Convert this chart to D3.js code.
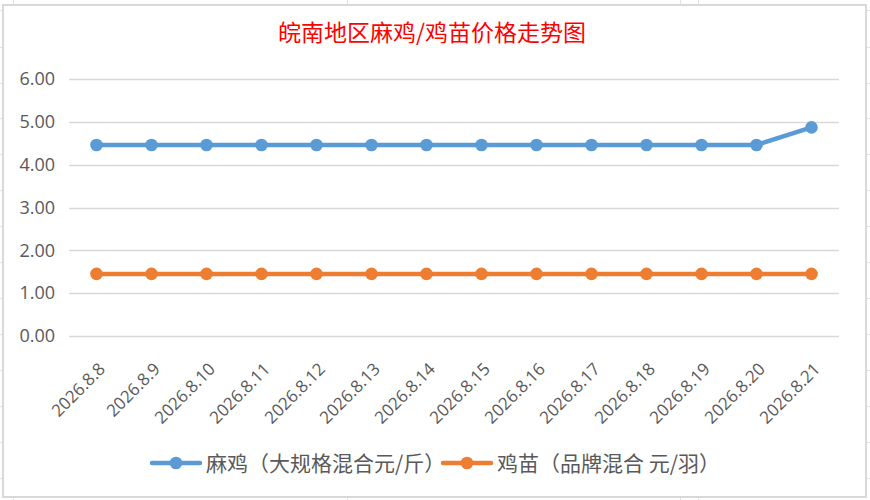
<!DOCTYPE html>
<html><head><meta charset="utf-8">
<script src="https://cdn.jsdelivr.net/npm/d3@7"></script>
<style>html,body{margin:0;padding:0;background:#fff;}svg{display:block;}</style>
</head><body>
<svg id="c" width="870" height="500"></svg>
<script>
const title = "皖南地区麻鸡/鸡苗价格走势图";
const categories = ["2026.8.8","2026.8.9","2026.8.10","2026.8.11","2026.8.12","2026.8.13","2026.8.14","2026.8.15","2026.8.16","2026.8.17","2026.8.18","2026.8.19","2026.8.20","2026.8.21"];
const seriesNames = ["麻鸡（大规格混合元/斤）","鸡苗（品牌混合 元/羽）"];
const maji = [4.46,4.46,4.46,4.46,4.46,4.46,4.46,4.46,4.46,4.46,4.46,4.46,4.46,4.87];
const jimiao = [1.45,1.45,1.45,1.45,1.45,1.45,1.45,1.45,1.45,1.45,1.45,1.45,1.45,1.45];
const yTicks = [0,1,2,3,4,5,6];
const colors = ["#5B9BD5","#ED7D31"];

const svg = d3.select("#c");
const font = "'Open Sans','Noto Sans CJK SC',sans-serif";

// spreadsheet background grid lines
const bg = svg.append("g").attr("stroke","#e3e3e3").attr("stroke-width",1);
[13,347,680,698].forEach(x=>bg.append("line").attr("x1",x+0.5).attr("x2",x+0.5).attr("y1",0).attr("y2",500));
[10,47,83,118,154,190,226,262,298,334,370,406,442,478].forEach(y=>bg.append("line").attr("x1",0).attr("x2",870).attr("y1",y+0.5).attr("y2",y+0.5));

// chart frame
svg.append("rect").attr("x",3).attr("y",5).attr("width",863).attr("height",492)
  .attr("fill","#fff").attr("stroke","#d9d9d9").attr("stroke-width",2);

svg.append("text").attr("x",432).attr("y",41).attr("text-anchor","middle")
  .attr("fill","#FF0000").attr("font-size",23)
  .attr("font-family","'Noto Sans CJK SC',sans-serif").text(title);

const x = d3.scalePoint().domain(categories).range([69,839]).padding(0.5);
const y = d3.scaleLinear().domain([0,6]).range([336,79]);

// gridlines
svg.append("g").selectAll("line").data(yTicks).join("line")
  .attr("x1",69).attr("x2",839)
  .attr("y1",d=>Math.round(y(d))+0.5).attr("y2",d=>Math.round(y(d))+0.5)
  .attr("stroke","#d9d9d9").attr("stroke-width",1.5);

// y axis labels
const yAxis = d3.axisLeft(y).tickValues(yTicks).tickFormat(d3.format(".2f")).tickSize(0).tickPadding(0);
const gy = svg.append("g").attr("transform","translate(55,0)").call(yAxis);
gy.select(".domain").remove();
gy.selectAll("text").attr("font-size",18).attr("fill","#595959").attr("font-family",font);

// x axis labels
const xAxis = d3.axisBottom(x).tickSize(0).tickPadding(0);
const gx = svg.append("g").attr("transform","translate(0,366)").call(xAxis);
gx.select(".domain").remove();
gx.selectAll("text").attr("font-size",17).attr("fill","#595959").attr("font-family",font)
  .attr("text-anchor","end").attr("y",0).attr("dy","0.35em")
  .attr("transform","translate(5,0) rotate(-45)");

// series
const data = [maji,jimiao];
const line = d3.line().x((d,i)=>x(categories[i])).y(d=>y(d));
data.forEach((s,k)=>{
  svg.append("path").datum(s).attr("d",line).attr("fill","none")
    .attr("stroke",colors[k]).attr("stroke-width",4.5).attr("stroke-linejoin","round").attr("stroke-linecap","round");
  svg.append("g").selectAll("circle").data(s).join("circle")
    .attr("cx",(d,i)=>x(categories[i])).attr("cy",d=>y(d)).attr("r",6.3).attr("fill",colors[k]);
});

// legend
const legX = [152,443];
seriesNames.forEach((n,k)=>{
  const g = svg.append("g").attr("transform",`translate(${legX[k]},463)`);
  g.append("line").attr("x1",0).attr("x2",48).attr("y1",0).attr("y2",0)
    .attr("stroke",colors[k]).attr("stroke-width",4.5).attr("stroke-linecap","round");
  g.append("circle").attr("cx",24).attr("cy",0).attr("r",6.3).attr("fill",colors[k]);
  g.append("text").attr("x",54).attr("y",0).attr("dy","0.36em").attr("font-size",21)
    .attr("fill","#595959").attr("font-family","'Noto Sans CJK SC',sans-serif").text(n);
});
</script>
</body></html>
